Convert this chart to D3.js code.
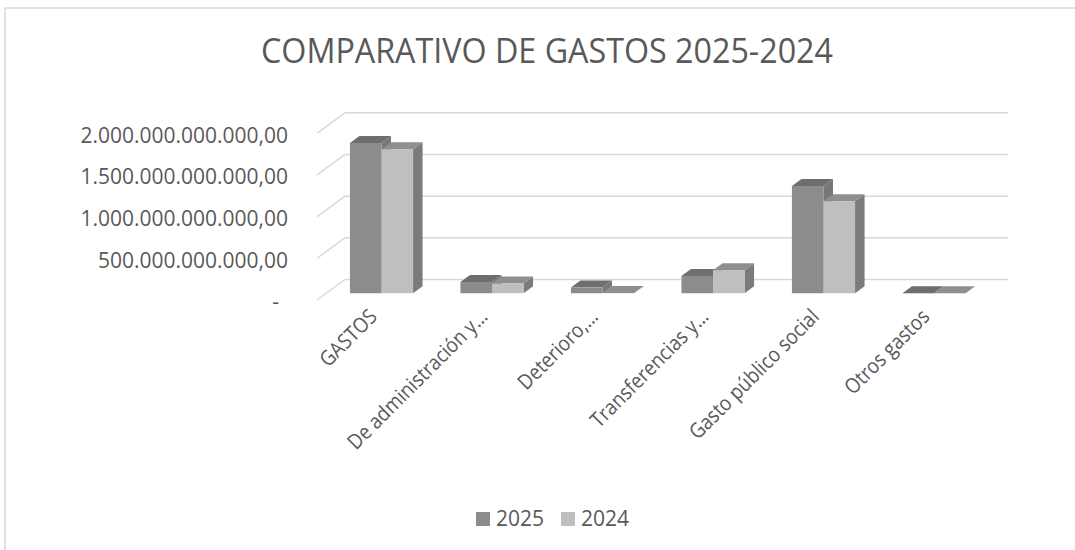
<!DOCTYPE html>
<html>
<head>
<meta charset="utf-8">
<script src="https://cdn.jsdelivr.net/npm/d3@7"></script>
<style>
  html, body { margin: 0; padding: 0; background: #ffffff; }
  svg { display: block; font-family: "Open Sans", "Noto Sans", sans-serif; }
</style>
</head>
<body>
<svg id="chart" width="1075" height="550"></svg>
<script>
// ---- data ----
const categories = ["GASTOS", "De administración y…", "Deterioro,…", "Transferencias y…", "Gasto público social", "Otros gastos"];
const seriesNames = ["2025", "2024"];
const values2025 = [1803e9, 136e9, 68e9, 208e9, 1288e9, 1e9];
const values2024 = [1728e9, 116e9, 3e9, 276e9, 1104e9, 1e9];
const tickValues = [0, 500e9, 1000e9, 1500e9, 2000e9];
const titleText = "COMPARATIVO DE GASTOS 2025-2024";

// ---- styles ----
const textColor = "#595959";
const gridColor = "#d9d9d9";
const faces = {
  "2025": { front: "#8c8c8c", top: "#6e6e6e", side: "#777777" },
  "2024": { front: "#bfbfbf", top: "#8f8f8f", side: "#7b7b7b" }
};

const svg = d3.select("#chart");

// chart area border
svg.append("rect")
  .attr("x", 5).attr("y", 8).attr("width", 1090).attr("height", 560)
  .attr("fill", "none").attr("stroke", gridColor).attr("stroke-width", 1.5);

// title
const title = svg.append("text")
  .attr("x", 547).attr("y", 63)
  .attr("text-anchor", "middle")
  .attr("fill", textColor)
  .attr("font-size", 35)
  .text(titleText);
{
  const len = title.node().getComputedTextLength();
  const target = 572;
  if (Math.abs(len - target) / target > 0.02) {
    title.attr("textLength", target).attr("lengthAdjust", "spacingAndGlyphs");
  }
}

// ---- 3D geometry ----
const X0 = 317, X1 = 980;
const depthDX = 28, depthDY = -20.5;   // full floor depth
const barStart = 0.33, barDepth = 0.34; // bar location in depth, fraction

const x = d3.scaleBand().domain(categories).range([X0, X1]).paddingInner(0).paddingOuter(0);
const y = d3.scaleLinear().domain([0, 2000e9]).range([300, 133.3]);

const locale = d3.formatLocale({ decimal: ",", thousands: ".", grouping: [3], currency: ["", ""] });
const fmt = locale.format(",.2f");

const gridG = svg.append("g");
tickValues.forEach(v => {
  const yf = y(v), yb = y(v) + depthDY;
  gridG.append("line")
    .attr("x1", X0).attr("y1", yf).attr("x2", X0 + depthDX).attr("y2", yb)
    .attr("stroke", gridColor).attr("stroke-width", 1.5);
  gridG.append("line")
    .attr("x1", X0 + depthDX).attr("y1", yb).attr("x2", X1 + depthDX).attr("y2", yb)
    .attr("stroke", gridColor).attr("stroke-width", 1.5);
  gridG.append("text")
    .attr("x", v === 0 ? 279 : 288)
    .attr("y", yf + 2)
    .attr("dy", "0.35em")
    .attr("text-anchor", "end")
    .attr("fill", textColor)
    .attr("font-size", 21)
    .text(v === 0 ? "-" : fmt(v));
});

// bars
const barsG = svg.append("g");
const bw = x.bandwidth() / 3.5;
const fx = depthDX * barStart, fy = depthDY * barStart;
const ddx = depthDX * barDepth, ddy = depthDY * barDepth;
const series = [values2025, values2024];

categories.forEach((c, ci) => {
  series.forEach((vals, si) => {
    const key = seriesNames[si];
    const col = faces[key];
    const bx = x(c) + 0.75 * bw + si * bw + fx;
    const yBase = y(0) + fy;
    const yTop = y(vals[ci]) + fy;
    const g = barsG.append("g");
    g.append("polygon")
      .attr("points", [[bx + bw, yTop], [bx + bw + ddx, yTop + ddy], [bx + bw + ddx, yBase + ddy], [bx + bw, yBase]].map(p => p.join(",")).join(" "))
      .attr("fill", col.side);
    g.append("polygon")
      .attr("points", [[bx, yTop], [bx + bw, yTop], [bx + bw + ddx, yTop + ddy], [bx + ddx, yTop + ddy]].map(p => p.join(",")).join(" "))
      .attr("fill", col.top);
    g.append("rect")
      .attr("x", bx).attr("y", yTop)
      .attr("width", bw).attr("height", Math.max(0, yBase - yTop))
      .attr("fill", col.front);
  });
});

// category labels
const catG = svg.append("g");
categories.forEach(c => {
  const cx = x(c) + x.bandwidth() / 2;
  const t = catG.append("text")
    .attr("transform", `translate(${cx + 6},${318}) rotate(-45)`)
    .attr("text-anchor", "end")
    .attr("fill", textColor)
    .attr("font-size", 21)
    .text(c);
  const len = t.node().getComputedTextLength();
  t.attr("textLength", len * 0.89).attr("lengthAdjust", "spacingAndGlyphs");
});

// legend
const legend = svg.append("g");
const legendX = [476, 561];
seriesNames.forEach((s, i) => {
  legend.append("rect")
    .attr("x", legendX[i]).attr("y", 512).attr("width", 14).attr("height", 14)
    .attr("fill", faces[s].front);
  legend.append("text")
    .attr("x", legendX[i] + 20).attr("y", 526)
    .attr("fill", textColor)
    .attr("font-size", 21)
    .text(s);
});
</script>
</body>
</html>
